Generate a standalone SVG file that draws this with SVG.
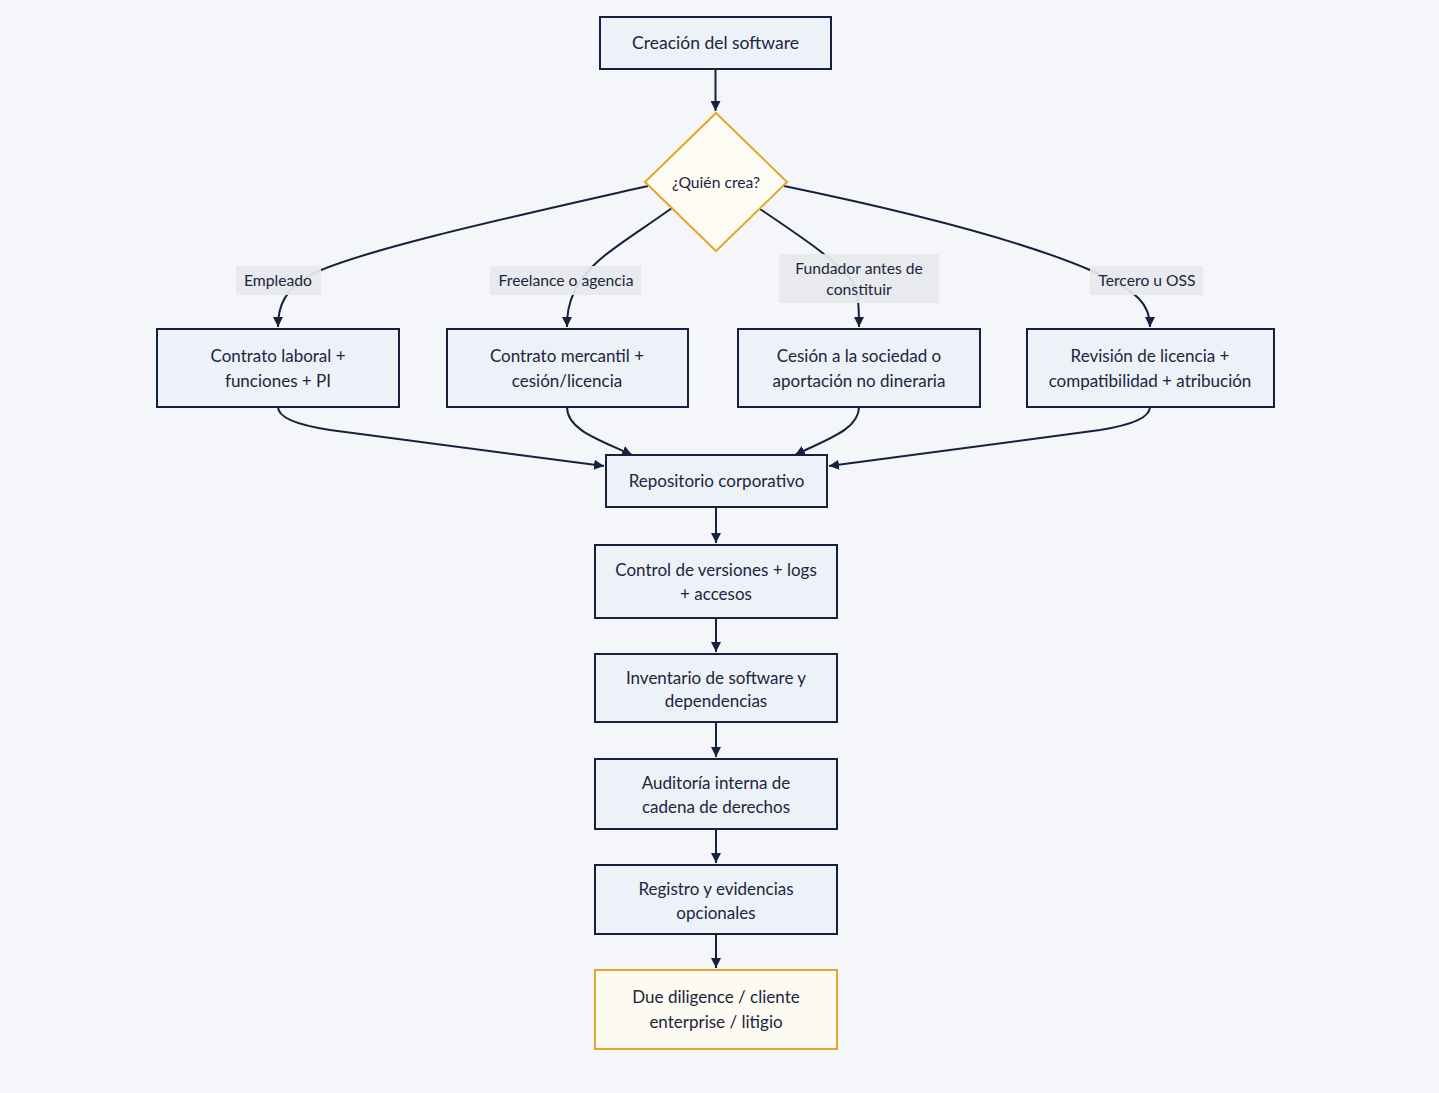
<svg xmlns="http://www.w3.org/2000/svg" width="1439" height="1093" viewBox="0 0 1439 1093">
<defs>
<marker id="ah" viewBox="0 0 10 10" refX="10" refY="5" markerWidth="10" markerHeight="10" markerUnits="userSpaceOnUse" orient="auto">
<path d="M0,0 L10,5 L0,10 z" fill="#16223d"/>
</marker>
<style>
.n rect{fill:#edf1f8;stroke:#16223d;stroke-width:2}
.g rect{fill:#fdfaf1;stroke:#e2a82b;stroke-width:2}
.t{font-family:Lato,"Liberation Sans",sans-serif;font-size:17px;fill:#1b2540;text-anchor:middle;dominant-baseline:central}
.lt{font-family:Lato,"Liberation Sans",sans-serif;font-size:15.7px;fill:#1b2540;text-anchor:middle;dominant-baseline:central}
.lb{fill:#e6e8ec;opacity:0.93}
.e{fill:none;stroke:#16223d;stroke-width:2;marker-end:url(#ah)}
</style>
</defs>
<rect width="1439" height="1093" fill="#f4f6f9"/>
<g id="connectors">
<path class="e" d="M715.5,69 L715.5,111"/>
<path class="e" d="M648,186 C520,215 360,250 310,275 C285,290 278,305 278,327"/>
<path class="e" d="M672,208 C620,245 590,260 575,290 C568,305 567,315 567,327"/>
<path class="e" d="M760,209 C800,236 830,256 850,278 C858,288 859,300 859,327"/>
<path class="e" d="M784,186 C900,210 1020,240 1090,270 C1140,292 1150,305 1150,327"/>
<path class="e" d="M278,407 Q278,422 330,430 L604,466"/>
<path class="e" d="M567,407 C567,430 600,440 632,455"/>
<path class="e" d="M859,407 C859,430 825,440 795,455"/>
<path class="e" d="M1150,407 Q1150,422 1100,430 L829,466"/>
<path class="e" d="M716,507 L716,543"/>
<path class="e" d="M716,618 L716,652"/>
<path class="e" d="M716,722 L716,757"/>
<path class="e" d="M716,829 L716,863"/>
<path class="e" d="M716,934 L716,968"/>
</g>
<g id="edge-labels">
<g id="lbl-empleado"><rect class="lb" x="236" y="266" width="85" height="29"/><text class="lt" x="278" y="279.5">Empleado</text></g>
<g id="lbl-freelance"><rect class="lb" x="490" y="266" width="151" height="29"/><text class="lt" x="566" y="279.5">Freelance o agencia</text></g>
<g id="lbl-fundador"><rect class="lb" x="779" y="254" width="160" height="49"/><text class="lt" x="859" y="267.5">Fundador antes de</text><text class="lt" x="859" y="288.5">constituir</text></g>
<g id="lbl-tercero"><rect class="lb" x="1090" y="266" width="113" height="29"/><text class="lt" x="1147" y="279.5">Tercero u OSS</text></g>
</g>
<g id="creacion" class="n"><rect x="600" y="17" width="231" height="52"/><text class="t" x="715.5" y="42.5" style="font-size:17.5px">Creación del software</text></g>
<g id="quien"><path d="M716,113 L787,182 L716,251 L645,182 z" fill="#fdfbf4" stroke="#e2a82b" stroke-width="2"/><text class="lt" x="716" y="181.5">¿Quién crea?</text></g>
<g id="empleado" class="n"><rect x="157" y="329" width="242" height="78"/><text class="t" x="278" y="355.5">Contrato laboral +</text><text class="t" x="278" y="380.5">funciones + PI</text></g>
<g id="freelance" class="n"><rect x="447" y="329" width="241" height="78"/><text class="t" x="567" y="355.5">Contrato mercantil +</text><text class="t" x="567" y="380.5">cesión/licencia</text></g>
<g id="fundador" class="n"><rect x="738" y="329" width="242" height="78"/><text class="t" x="859" y="355.5">Cesión a la sociedad o</text><text class="t" x="859" y="380.5">aportación no dineraria</text></g>
<g id="tercero" class="n"><rect x="1027" y="329" width="247" height="78"/><text class="t" x="1150" y="355.5">Revisión de licencia +</text><text class="t" x="1150" y="380.5">compatibilidad + atribución</text></g>
<g id="repositorio" class="n"><rect x="606" y="455" width="221" height="52"/><text class="t" x="716.5" y="480.5">Repositorio corporativo</text></g>
<g id="control" class="n"><rect x="595" y="545" width="242" height="73"/><text class="t" x="716" y="569.5">Control de versiones + logs</text><text class="t" x="716" y="593.5">+ accesos</text></g>
<g id="inventario" class="n"><rect x="595" y="654" width="242" height="68"/><text class="t" x="716" y="677.5">Inventario de software y</text><text class="t" x="716" y="700.5">dependencias</text></g>
<g id="auditoria" class="n"><rect x="595" y="759" width="242" height="70"/><text class="t" x="716" y="782.5">Auditoría interna de</text><text class="t" x="716" y="806.5">cadena de derechos</text></g>
<g id="registro" class="n"><rect x="595" y="865" width="242" height="69"/><text class="t" x="716" y="888.5">Registro y evidencias</text><text class="t" x="716" y="912.5">opcionales</text></g>
<g id="due" class="g"><rect x="595" y="970" width="242" height="79"/><text class="t" x="716" y="996.5">Due diligence / cliente</text><text class="t" x="716" y="1021.5">enterprise / litigio</text></g>
</svg>
